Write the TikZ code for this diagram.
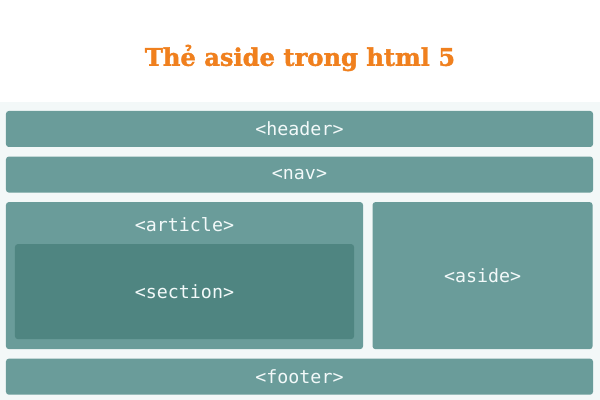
\documentclass[tikz,border=0pt]{standalone}
\usepackage{fontspec}
\setmonofont{DejaVu Sans Mono}
\newfontfamily\titlefont[BoldFeatures={FakeBold=1.6}]{DejaVu Serif}
\usetikzlibrary{positioning, calc}

\definecolor{tealbox}{RGB}{106,156,154}
\definecolor{tealdark}{RGB}{79,133,129}
\definecolor{pagebg}{RGB}{243,248,248}
\definecolor{tagwhite}{RGB}{242,249,249}
\definecolor{titleorange}{RGB}{240,128,30}

\begin{document}
\begin{tikzpicture}[
    node distance=0.225cm and 0.225cm,
    panel/.style={rectangle, draw=none, fill=tealbox, rounded corners=2pt, inner sep=0pt, text=tagwhite, font=\ttfamily\fontsize{13}{15}\selectfont},
    inner/.style={panel, fill=tealdark},
    tag/.style={text=tagwhite, font=\ttfamily\fontsize{13}{15}\selectfont, inner sep=0pt}
]
\useasboundingbox (0,0) rectangle (15,-10);
\fill[white] (0,0) rectangle (15,-10);
\fill[pagebg] (0,-2.55) rectangle (15,-10);

% TITLE
\node[font=\titlefont\bfseries\fontsize{17.2}{20}\selectfont, text=titleorange] (title) at (7.5,-1.45) {Thẻ aside trong html 5};

% PAGE LAYOUT
\node[panel, minimum width=14.675cm, minimum height=0.9cm] (header) at (7.4875,-3.225) {<header>};
\node[panel, minimum width=14.675cm, minimum height=0.9cm, below=of header] (nav) {<nav>};
\node[panel, minimum width=8.925cm, minimum height=3.675cm, below=of nav.south west, anchor=north west,
    label={[tag, anchor=center, yshift=-0.575cm]north:{<article>}}] (article) {};
\node[inner, minimum width=8.475cm, minimum height=2.375cm, anchor=south] (section) at ($(article.south)+(0,0.25)$) {<section>};
\node[panel, minimum width=5.5cm, minimum height=3.675cm, right=of article] (aside) {<aside>};
\node[panel, minimum width=14.675cm, minimum height=0.9cm, below=of article.south west, anchor=north west] (footer) {<footer>};

\end{tikzpicture}
\end{document}
